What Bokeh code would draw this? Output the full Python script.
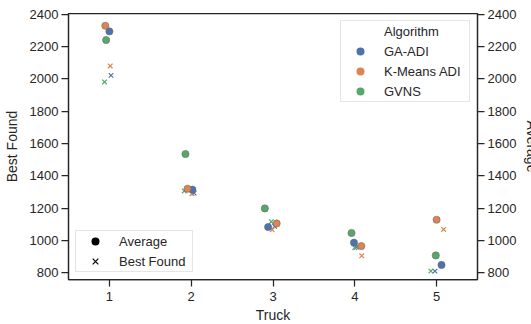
from bokeh.plotting import figure
from bokeh.models import (LinearAxis, FixedTicker, Legend, LegendItem,
                          ColumnDataSource, Range1d)
from bokeh.embed import file_html
from bokeh.resources import INLINE

# ---- data ----
trucks = [1, 2, 3, 4, 5]
algorithms = ["GA-ADI", "K-Means ADI", "GVNS"]
y_ticks = [800, 1000, 1200, 1400, 1600, 1800, 2000, 2200, 2400]

avg_ga_adi = [2294, 1314, 1083, 986, 848]
avg_kmeans_adi = [2329, 1320, 1105, 965, 1128]
avg_gvns = [2241, 1535, 1198, 1046, 907]

best_ga_adi = [2022, 1293, 1087, 959, 810]
best_kmeans_adi = [2080, 1289, 1066, 905, 1068]
best_gvns = [1981, 1306, 1116, 955, 810]

# strip-plot jitter (offsets from the category centre)
jit_avg_ga_adi = [0.0, 0.015, -0.06, -0.01, 0.06]
jit_avg_kmeans_adi = [-0.05, -0.045, 0.045, 0.08, 0.0]
jit_avg_gvns = [-0.04, -0.07, -0.10, -0.04, -0.01]
jit_best_ga_adi = [0.02, 0.035, 0.02, 0.02, -0.02]
jit_best_kmeans_adi = [0.01, 0.01, -0.01, 0.085, 0.085]
jit_best_gvns = [-0.06, -0.085, -0.02, 0.0, -0.07]

colors = ["#4C72B0", "#DD8452", "#55A868"]
TEXT = "#262626"
FONT = "Liberation Sans"

p = figure(frame_width=409, frame_height=266,
           x_range=Range1d(0.5, 5.5), y_range=Range1d(758, 2405),
           output_backend="svg", toolbar_location=None,
           min_border_left=68, min_border_right=52,
           min_border_top=13, min_border_bottom=43,
           background_fill_color="white", border_fill_color="white")

p.grid.visible = False
p.outline_line_color = TEXT
p.outline_line_width = 1.25

right_axis = LinearAxis(axis_label="Average")
p.add_layout(right_axis, "right")

p.xaxis.ticker = FixedTicker(ticks=trucks)
p.yaxis.ticker = FixedTicker(ticks=y_ticks)

for ax in [p.xaxis[0], p.yaxis[0], right_axis]:
    ax.axis_line_color = TEXT
    ax.axis_line_width = 1.25
    ax.major_tick_line_color = TEXT
    ax.major_tick_line_width = 1.25
    ax.major_tick_out = 7
    ax.major_tick_in = 0
    ax.minor_tick_out = 0
    ax.minor_tick_in = 0
    ax.major_label_text_font = FONT
    ax.major_label_text_font_size = "13px"
    ax.major_label_text_color = TEXT
    ax.major_label_standoff = 3
    ax.axis_label_text_font = FONT
    ax.axis_label_text_font_size = "14px"
    ax.axis_label_text_font_style = "normal"
    ax.axis_label_text_color = TEXT

p.xaxis[0].axis_label = "Truck"
p.xaxis[0].major_label_standoff = 5
p.xaxis[0].axis_label_standoff = 3
p.yaxis[0].axis_label = "Best Found"
p.yaxis[0].axis_label_standoff = 7
right_axis.axis_label_standoff = 5

best_sets = [best_ga_adi, best_kmeans_adi, best_gvns]
best_jit = [jit_best_ga_adi, jit_best_kmeans_adi, jit_best_gvns]
avg_sets = [avg_ga_adi, avg_kmeans_adi, avg_gvns]
avg_jit = [jit_avg_ga_adi, jit_avg_kmeans_adi, jit_avg_gvns]

# Best Found (crosses) drawn first, Average (circles) on top
for vals, jit, c in zip(best_sets, best_jit, colors):
    src = ColumnDataSource(dict(x=[t + j for t, j in zip(trucks, jit)], y=vals))
    p.scatter("x", "y", source=src, marker="x", size=6.5, line_color=c, line_width=1.2)

for vals, jit, c in zip(avg_sets, avg_jit, colors):
    src = ColumnDataSource(dict(x=[t + j for t, j in zip(trucks, jit)], y=vals))
    p.scatter("x", "y", source=src, marker="circle", size=7.2, fill_color=c,
              line_color="#6a6a6a", line_width=0.6)

# legend-only renderers (not-a-number positions: never drawn in the plot)
nan = [float("nan")]
title_r = p.scatter(x=nan, y=nan, marker="circle", fill_alpha=0, line_alpha=0)
alg_rs = [p.scatter(x=nan, y=nan, marker="circle", fill_color=c, line_color=None)
          for c in colors]
avg_r = p.scatter(x=nan, y=nan, marker="circle", fill_color="black", line_color=None)
best_r = p.scatter(x=nan, y=nan, marker="x", line_color="black", line_width=1.2)

def style_legend(leg, lw):
    leg.padding = 0
    leg.spacing = 0
    leg.glyph_width = 38
    leg.glyph_height = 20
    leg.label_height = 20
    leg.label_width = lw
    leg.label_standoff = 5
    leg.label_text_font = FONT
    leg.label_text_font_size = "13px"
    leg.label_text_color = TEXT
    leg.border_line_color = "#cccccc"
    leg.border_line_width = 1
    leg.background_fill_color = "white"
    leg.background_fill_alpha = 0.8

leg1 = Legend(items=[LegendItem(label="Algorithm", renderers=[title_r])] +
              [LegendItem(label=a, renderers=[r]) for a, r in zip(algorithms, alg_rs)],
              location="top_right")
style_legend(leg1, 85)
leg1.margin = 7
p.add_layout(leg1)

leg2 = Legend(items=[LegendItem(label="Average", renderers=[avg_r]),
                     LegendItem(label="Best Found", renderers=[best_r])],
              location=(7, 7))
style_legend(leg2, 73)
p.add_layout(leg2)

open("out.html", "w").write(file_html(p, INLINE))
